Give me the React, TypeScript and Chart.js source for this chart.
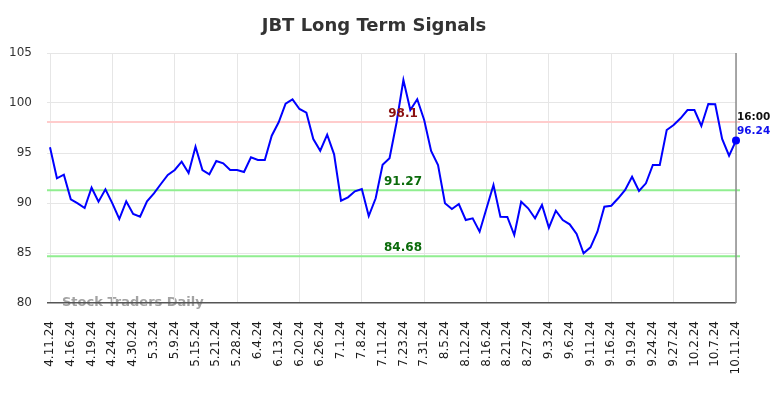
import React, { useEffect, useRef } from "react";
import { Chart, registerables } from "chart.js";

Chart.register(...registerables);

const tickLabels = [
  "4.11.24", "4.16.24", "4.19.24", "4.24.24", "4.30.24", "5.3.24", "5.9.24", "5.15.24",
  "5.21.24", "5.28.24", "6.4.24", "6.13.24", "6.20.24", "6.26.24", "7.1.24", "7.8.24",
  "7.11.24", "7.23.24", "7.31.24", "8.5.24", "8.12.24", "8.16.24", "8.21.24", "8.27.24",
  "9.3.24", "9.6.24", "9.11.24", "9.16.24", "9.19.24", "9.24.24", "9.27.24", "10.2.24",
  "10.7.24", "10.11.24",
];

const prices = [
  95.57, 92.47, 92.83, 90.37, 89.97, 89.5, 91.53, 90.13, 91.37, 89.97, 88.4, 90.17, 88.9,
  88.63, 90.17, 90.97, 91.9, 92.8, 93.3, 94.13, 93.0, 95.63, 93.3, 92.87, 94.2,
  93.97, 93.3, 93.3, 93.1, 94.57, 94.3, 94.3, 96.73, 98.07, 99.93, 100.37, 99.4, 99.03,
  96.4, 95.23, 96.83, 94.87, 90.23, 90.57, 91.17, 91.4, 88.7, 90.47, 93.83, 94.47,
  98.0, 102.3, 99.3, 100.37, 98.3, 95.2, 93.8, 89.97, 89.4, 89.9, 88.3, 88.47, 87.13,
  89.47, 91.8, 88.63, 88.6, 86.8, 90.13, 89.47, 88.47, 89.8, 87.53, 89.23,
  88.3, 87.87, 86.9, 84.97, 85.57, 87.13, 89.63, 89.73, 90.47, 91.3, 92.63, 91.2, 91.97,
  93.8, 93.8, 97.3, 97.8, 98.47, 99.3, 99.3, 97.7, 99.9, 99.87, 96.4, 94.73, 96.24,
];

const resistance = 98.1;
const supports = [91.27, 84.68];
const lastTime = "16:00";
const yTicks = [80, 85, 90, 95, 100, 105];
const titleText = "JBT Long Term Signals";
const watermark = "Stock Traders Daily";

const labels = prices.map((_, i) => (i % 3 === 0 ? tickLabels[i / 3] : ""));

const overlay = {
  id: "overlay",
  beforeDraw(chart: any) {
    const ctx = chart.ctx;
    const area = chart.chartArea;
    ctx.save();
    ctx.fillStyle = "#333333";
    ctx.font = 'bold 18px "DejaVu Sans"';
    ctx.textAlign = "center";
    ctx.textBaseline = "middle";
    ctx.fillText(titleText, 374, 26);
    ctx.fillStyle = "#a3a3a3";
    ctx.font = 'bold 13px "DejaVu Sans"';
    ctx.textAlign = "left";
    ctx.fillText(watermark, area.left + 12, area.bottom);
    ctx.restore();
  },
  beforeDatasetsDraw(chart: any) {
    const ctx = chart.ctx;
    const area = chart.chartArea;
    const y = chart.scales.y;
    const x = chart.scales.x;
    ctx.save();
    ctx.lineWidth = 2;
    const draw = (v: number, c: string) => {
      const py = y.getPixelForValue(v);
      ctx.strokeStyle = c;
      ctx.beginPath();
      ctx.moveTo(area.left - 3, py);
      ctx.lineTo(area.right + 4, py);
      ctx.stroke();
    };
    draw(resistance, "#ffcccc");
    supports.forEach((s) => draw(s, "#90ee90"));
    const px = x.getPixelForValue(prices.length - 1);
    ctx.strokeStyle = "#8c8c8c";
    ctx.lineWidth = 1.5;
    ctx.beginPath();
    ctx.moveTo(px, area.top);
    ctx.lineTo(px, area.bottom);
    ctx.stroke();
    ctx.restore();
  },
  afterDatasetsDraw(chart: any) {
    const ctx = chart.ctx;
    const y = chart.scales.y;
    ctx.save();
    ctx.font = 'bold 12px "DejaVu Sans"';
    ctx.textAlign = "center";
    ctx.textBaseline = "middle";
    ctx.fillStyle = "#8b1010";
    ctx.fillText(String(resistance), 403, y.getPixelForValue(resistance) - 8);
    ctx.fillStyle = "#0b6b0b";
    supports.forEach((s) => ctx.fillText(s.toFixed(2), 403, y.getPixelForValue(s) - 8));
    const meta = chart.getDatasetMeta(0);
    const last = meta.data[meta.data.length - 1];
    ctx.textAlign = "left";
    ctx.font = 'bold 10.5px "DejaVu Sans"';
    ctx.fillStyle = "#111111";
    ctx.fillText(lastTime, last.x + 1, last.y - 23);
    ctx.fillStyle = "#1010ee";
    ctx.fillText(prices[prices.length - 1].toFixed(2), last.x + 1, last.y - 9);
    ctx.restore();
  },
};

export default function App() {
  const ref = useRef<HTMLCanvasElement>(null);
  useEffect(() => {
    document.body.style.margin = "0";
    const n = prices.length;
    const chart = new Chart(ref.current as HTMLCanvasElement, {
      type: "line",
      data: {
        labels,
        datasets: [
          {
            data: prices,
            borderColor: "#0000ff",
            backgroundColor: "#0000ff",
            borderWidth: 2,
            tension: 0,
            pointRadius: (c: any) => (c.dataIndex === n - 1 ? 4 : 0),
            pointBorderWidth: 0,
            pointHoverRadius: 0,
          },
        ],
      },
      options: {
        animation: false,
        responsive: false,
        layout: { padding: { top: 53, right: 48, left: 0, bottom: 0 } },
        plugins: { legend: { display: false }, tooltip: { enabled: false }, title: { display: false } },
        scales: {
          x: {
            border: { display: false },
            grid: {
              drawTicks: false,
              color: (c: any) => (c.index % 3 === 0 ? "#e6e6e6" : "rgba(0,0,0,0)"),
            },
            ticks: {
              autoSkip: false,
              maxRotation: 90,
              minRotation: 90,
              padding: 18,
              color: "#1a1a1a",
              font: { family: '"DejaVu Sans"', size: 12 },
              callback: function (this: any, v: any, i: number) {
                return i % 3 === 0 ? labels[i] : null;
              },
            },
            afterFit: (s: any) => {
              s.height = 95;
            },
          },
          y: {
            min: 80,
            max: 105,
            border: { display: false },
            afterBuildTicks: (s: any) => {
              s.ticks = yTicks.map((v) => ({ value: v }));
            },
            grid: {
              tickLength: 3,
              color: (c: any) => (c.tick && c.tick.value === 80 ? "#555555" : "#e6e6e6"),
              lineWidth: (c: any) => (c.tick && c.tick.value === 80 ? 1.5 : 1),
            },
            ticks: {
              padding: 15,
              color: "#333333",
              font: { family: '"DejaVu Sans"', size: 12 },
            },
            afterFit: (s: any) => {
              s.width = 50;
            },
          },
        },
      },
      plugins: [overlay],
    } as any);
    return () => chart.destroy();
  }, []);
  return (
    <div style={{ width: 784, height: 398 }}>
      <canvas ref={ref} width={784} height={398} style={{ display: "block" }} />
    </div>
  );
}
